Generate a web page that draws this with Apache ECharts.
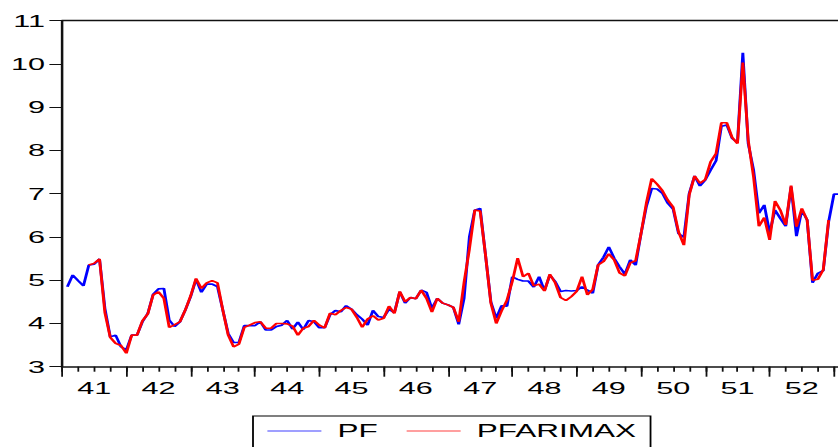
<!DOCTYPE html>
<html>
<head>
<meta charset="utf-8">
<script src="https://cdn.jsdelivr.net/npm/echarts/dist/echarts.min.js"></script>
<style>
  html, body { margin: 0; padding: 0; background: #fff; overflow: hidden; }
  #wrap { width: 838px; height: 447px; overflow: hidden; position: relative; }
  #chart { position: absolute; left: 0; top: 0; height: 447px; transform-origin: 0 0; }
</style>
</head>
<body>
<div id="wrap"><div id="chart"></div></div>
<script>
// Monthly observations, first value is month 1 of year '41
const yearLabels = ['41','42','43','44','45','46','47','48','49','50','51','52'];

const pf = [
  4.85, 5.12, 4.99, 4.87, 5.35, 5.37, 5.49, 4.35, 3.69, 3.73, 3.46, 3.39,
  3.73, 3.73, 4.04, 4.23, 4.67, 4.80, 4.81, 4.08, 3.93, 4.04, 4.31, 4.62,
  5.02, 4.72, 4.91, 4.91, 4.85, 4.31, 3.77, 3.56, 3.56, 3.95, 3.95, 3.95,
  4.04, 3.85, 3.85, 3.93, 3.96, 4.07, 3.87, 4.03, 3.86, 4.07, 4.04, 3.90,
  3.90, 4.20, 4.30, 4.27, 4.41, 4.33, 4.20, 4.10, 3.96, 4.30, 4.16, 4.14,
  4.33, 4.25, 4.73, 4.47, 4.60, 4.57, 4.77, 4.72, 4.35, 4.58, 4.47, 4.43,
  4.37, 3.98, 4.58, 6.01, 6.62, 6.66, 5.58, 4.50, 4.12, 4.41, 4.40, 5.08,
  5.02, 4.98, 4.98, 4.84, 5.08, 4.76, 5.12, 4.97, 4.74, 4.76, 4.75, 4.76,
  4.85, 4.77, 4.70, 5.35, 5.53, 5.77, 5.51, 5.31, 5.14, 5.47, 5.35, 6.07,
  6.70, 7.12, 7.11, 7.01, 6.78, 6.64, 6.08, 5.99, 7.01, 7.41, 7.18, 7.32,
  7.55, 7.76, 8.56, 8.59, 8.28, 8.18, 10.26, 8.16, 7.55, 6.55, 6.74, 6.10,
  6.62, 6.43, 6.25, 7.16, 6.02, 6.62, 6.39, 4.94, 5.16, 5.22, 6.35, 6.99,
  6.99
];

const pfarimax = [
  null, null, null, null, 5.35, 5.39, 5.49, 4.25, 3.68, 3.54, 3.49, 3.31,
  3.73, 3.73, 4.06, 4.22, 4.66, 4.73, 4.58, 3.91, 3.97, 4.04, 4.31, 4.64,
  5.04, 4.81, 4.94, 4.99, 4.94, 4.31, 3.73, 3.46, 3.52, 3.91, 3.96, 4.02,
  4.04, 3.89, 3.89, 4.00, 4.00, 3.99, 3.94, 3.73, 3.89, 3.93, 4.07, 3.96,
  3.90, 4.24, 4.20, 4.30, 4.37, 4.33, 4.14, 3.91, 4.10, 4.18, 4.08, 4.12,
  4.40, 4.23, 4.74, 4.50, 4.60, 4.57, 4.77, 4.58, 4.26, 4.58, 4.47, 4.43,
  4.37, 4.04, 4.95, 5.72, 6.62, 6.60, 5.58, 4.47, 4.00, 4.29, 4.54, 4.97,
  5.51, 5.08, 5.16, 4.87, 4.91, 4.75, 5.14, 4.94, 4.60, 4.53, 4.62, 4.74,
  5.08, 4.66, 4.79, 5.35, 5.43, 5.61, 5.47, 5.17, 5.10, 5.40, 5.45, 6.07,
  6.78, 7.35, 7.22, 7.07, 6.85, 6.69, 6.12, 5.81, 6.97, 7.41, 7.24, 7.33,
  7.74, 7.93, 8.64, 8.64, 8.30, 8.16, 10.03, 8.24, 7.39, 6.25, 6.45, 5.93,
  6.83, 6.62, 6.28, 7.19, 6.24, 6.66, 6.39, 5.00, 5.02, 5.24, 6.39
];

// The plot is laid out narrow and stretched sideways, giving the wide lettering
const SX = 1.8;
const FULL_W = 838;
const el = document.getElementById('chart');
el.style.width = (FULL_W / SX) + 'px';
el.style.transform = 'scaleX(' + SX + ')';

const FONT = '"Liberation Sans", Arial, sans-serif';
const INK = '#111';
const X_MAX = 144.9;   // months shown on the time axis

const toPoints = arr => arr.map((v, i) => [i + 1, v]);

const baseX = {
  type: 'value', min: 0, max: X_MAX, position: 'bottom',
  splitLine: { show: false }, axisLabel: { show: false },
  axisLine: { show: false }, axisTick: { show: false }
};

const chart = echarts.init(el, null, { renderer: 'svg' });
chart.setOption({
  animation: false,
  backgroundColor: '#fff',
  grid: {
    left: 62 / SX, right: 0, top: 20.7, bottom: 80.3,
    containLabel: false, outerBoundsMode: 'none'
  },
  xAxis: [
    Object.assign({}, baseX, {
      interval: 3,
      axisLine: { show: true, lineStyle: { color: INK, width: 1.6 } },
      axisTick: { show: true, length: 5, lineStyle: { color: INK, width: 1 } }
    }),
    Object.assign({}, baseX, {
      interval: 12,
      axisTick: { show: true, length: 10, lineStyle: { color: INK, width: 1 } }
    }),
    Object.assign({}, baseX, {
      interval: 6,
      axisLabel: {
        show: true, margin: 13, color: '#000', fontSize: 17, fontFamily: FONT,
        formatter: v => {
          const m = Math.round(v);
          return m % 12 === 6 ? (yearLabels[(m - 6) / 12] || '') : '';
        }
      }
    }),
    Object.assign({}, baseX, {
      position: 'top',
      axisLine: { show: true, lineStyle: { color: INK, width: 1.4 } }
    })
  ],
  yAxis: {
    type: 'value', min: 3, max: 11, interval: 1,
    splitLine: { show: false },
    axisLine: { show: true, lineStyle: { color: INK, width: 1.4 } },
    axisTick: { show: true, length: 7, lineStyle: { color: INK, width: 1 } },
    axisLabel: { margin: 9.4, color: '#000', fontSize: 17, fontFamily: FONT }
  },
  legend: {
    left: 253 / SX, top: 416,
    orient: 'horizontal',
    padding: [6, 8, 8, 8],
    icon: 'rect',
    itemWidth: 30, itemHeight: 1.2, itemGap: 16,
    borderColor: '#000', borderWidth: 1, borderRadius: 0,
    backgroundColor: '#fff',
    itemStyle: { opacity: 0.75 },
    textStyle: { color: '#000', fontSize: 17.5, fontFamily: FONT, padding: [0, 0, 0, 4] },
    data: ['PF', 'PFARIMAX']
  },
  series: [
    {
      name: 'PF', type: 'line', xAxisIndex: 0, data: toPoints(pf),
      symbol: 'none', showSymbol: false, clip: true,
      color: '#0000ff', lineStyle: { color: '#0000ff', width: 1.6 }
    },
    {
      name: 'PFARIMAX', type: 'line', xAxisIndex: 0, data: toPoints(pfarimax),
      symbol: 'none', showSymbol: false, clip: true, connectNulls: false,
      color: '#ff0000', lineStyle: { color: '#ff0000', width: 1.6 }
    }
  ]
});
</script>
</body>
</html>
